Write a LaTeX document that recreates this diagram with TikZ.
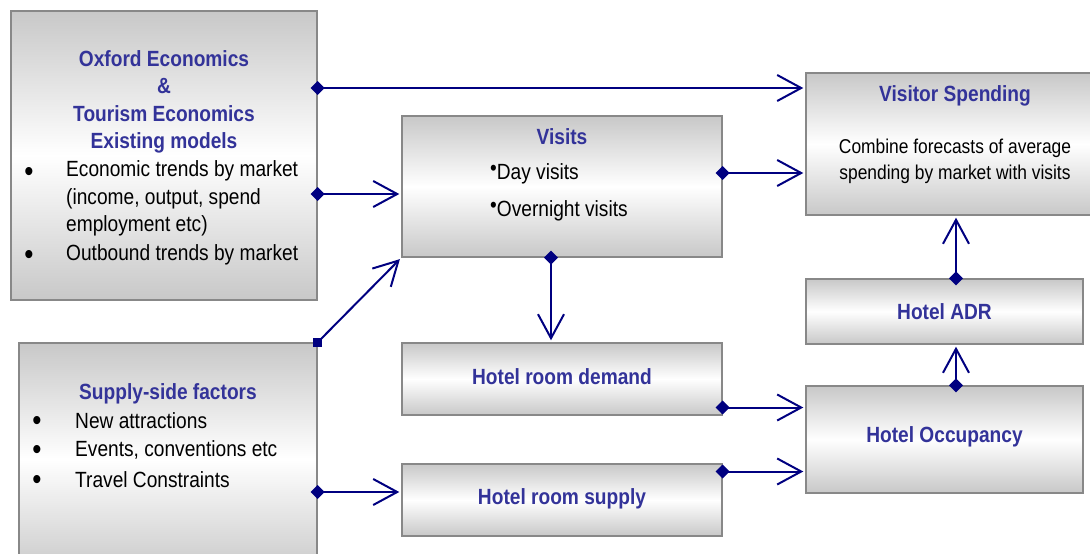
\documentclass[tikz,border=0pt]{standalone}
\usepackage{fontspec}
\setmainfont{Liberation Sans}[FakeStretch=0.87]
\usetikzlibrary{arrows.meta}
\definecolor{navyline}{HTML}{000080}
\definecolor{titleblue}{HTML}{333399}
\definecolor{boxgrey}{HTML}{C8C8C8}
\definecolor{boxedge}{HTML}{888888}

\begin{document}
\begin{tikzpicture}[x=1pt,y=-1pt,
        box/.style={draw=boxedge,line width=1.4pt,top color=boxgrey,bottom color=boxgrey,middle color=white,inner sep=0pt},
        conn/.style={navyline,line width=2pt,{Diamond[length=14pt,width=14pt]}-{Straight Barb[length=24pt,width=26pt]},shorten <=-7pt,shorten >=2pt},
        title/.style={text=titleblue,font=\bfseries\fontsize{22}{27.5}\selectfont,align=center,inner sep=0pt},
        body/.style={font=\fontsize{22}{27.5}\selectfont,align=left,inner sep=0pt},
        dot/.style={font=\fontsize{30}{30}\selectfont,inner sep=0pt}]
            \clip (0,0) rectangle (1090,554);

            % left column
            \node[box,minimum width=306pt,minimum height=289pt] (oxford) at (164,155.5) {};
            \node[title] (oxtitle) at (164,102) {Oxford Economics\\\&\\Tourism Economics\\Existing models};
            \node[dot] (oxbull1) at (29,174) {•};
            \node[body,anchor=west] (oxtext1) at (66,198.5) {Economic trends by market\\(income, output, spend\\employment etc)};
            \node[dot] (oxbull2) at (29,257) {•};
            \node[body,anchor=west] (oxtext2) at (66,254.5) {Outbound trends by market};

            \node[box,minimum width=298pt,minimum height=232pt] (supply) at (168,459) {};
            \node[title] (suptitle) at (168,394) {Supply-side factors};
            \node[dot] (supbull1) at (37,423) {•};
            \node[body,anchor=west] (suptext1) at (75,420.5) {New attractions};
            \node[dot] (supbull2) at (37,452) {•};
            \node[body,anchor=west] (suptext2) at (75,449.5) {Events, conventions etc};
            \node[dot] (supbull3) at (37,482) {•};
            \node[body,anchor=west] (suptext3) at (75,479.5) {Travel Constraints};

            % middle column
            \node[box,minimum width=320pt,minimum height=141pt] (visits) at (562,186.5) {};
            \node[title] (vistitle) at (562,137) {Visits};
            \node[body,anchor=west] (vistext1) at (490,174) {\raisebox{4pt}{•}Day visits};
            \node[body,anchor=west] (vistext2) at (490,211) {\raisebox{4pt}{•}Overnight visits};

            \node[box,title,minimum width=320pt,minimum height=72pt] (demand) at (562,379) {\raisebox{-5pt}[0pt][0pt]{Hotel room demand}};
            \node[box,title,minimum width=320pt,minimum height=72pt] (roomsupply) at (562,500) {\raisebox{-4pt}[0pt][0pt]{Hotel room supply}};

            % right column
            \node[box,minimum width=290pt,minimum height=142pt] (spending) at (951,144) {};
            \node[title] (spendtitle) at (955,96) {Visitor Spending};
            \node[body,align=center,font=\fontsize{20}{26}\selectfont] (spendtext) at (955,161.5) {Combine forecasts of average\\spending by market with visits};

            \node[box,title,minimum width=277pt,minimum height=65pt] (adr) at (944.5,311.5) {\raisebox{-7.5pt}[0pt][0pt]{Hotel ADR}};
            \node[box,title,minimum width=277pt,minimum height=107pt] (occupancy) at (944.5,439.5) {\raisebox{-2.5pt}[0pt][0pt]{Hotel Occupancy}};

            % connectors
            \draw[conn] (oxford.east |- 0,88) -- (spending.west |- 0,88);
            \draw[conn] (oxford.east |- 0,194) -- (visits.west |- 0,194);
            \draw[conn,-{Straight Barb[length=24pt,width=26pt]},shorten <=0pt] (supply.north east) -- (visits.south west);
            \fill[navyline] ([shift={(-4.5,-4.5)}]supply.north east) rectangle ++(9,9);
            \draw[conn] (visits.east |- 0,173) -- (spending.west |- 0,173);
            \draw[conn] (visits.south -| 551,0) -- (demand.north -| 551,0);
            \draw[conn] (demand.east |- 0,407.5) -- (occupancy.west |- 0,407.5);
            \draw[conn] (supply.east |- 0,492) -- (roomsupply.west |- 0,492);
            \draw[conn] (roomsupply.east |- 0,471.5) -- (occupancy.west |- 0,471.5);
            \draw[conn] (occupancy.north -| 956,0) -- (adr.south -| 956,0);
            \draw[conn] (adr.north -| 956,0) -- (spending.south -| 956,0);
\end{tikzpicture}
\end{document}
